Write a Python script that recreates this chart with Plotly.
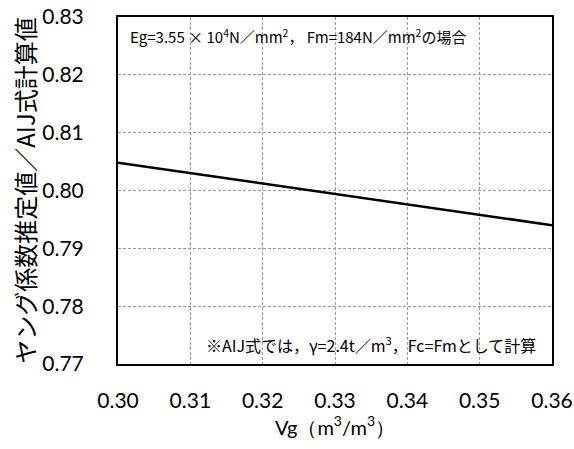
import plotly.graph_objects as go

vg = [0.30, 0.33, 0.36]
ratio = [0.8048, 0.7994, 0.7940]

x_ticks = [0.30, 0.31, 0.32, 0.33, 0.34, 0.35, 0.36]
y_ticks = [0.77, 0.78, 0.79, 0.80, 0.81, 0.82, 0.83]

num_font = "Lato, Open Sans, sans-serif"
jp_font = "Noto Sans CJK JP, sans-serif"

fig = go.Figure()
fig.add_trace(go.Scatter(x=vg, y=ratio, mode="lines",
                         line=dict(color="black", width=2.5), showlegend=False))

fig.update_layout(
    width=574, height=449,
    margin=dict(l=118, r=22, t=17, b=85, autoexpand=False),
    plot_bgcolor="white", paper_bgcolor="white",
    xaxis=dict(range=[0.30, 0.36], tickvals=x_ticks,
               ticktext=[f"{v:.2f}" for v in x_ticks],
               showgrid=True, gridcolor="#9a9a9a", griddash="3px,2px", gridwidth=1,
               showline=True, linecolor="black", linewidth=2, mirror=True,
               ticks="outside", ticklen=17, tickcolor="rgba(0,0,0,0)",
               zeroline=False, automargin=False,
               tickfont=dict(family=num_font, size=21, color="black"),
               title=dict(text="Vg（m<sup>3</sup>/m<sup>3</sup>）",
                          font=dict(family=num_font, size=20, color="black"),
                          standoff=3)),
    yaxis=dict(range=[0.77, 0.83], tickvals=y_ticks,
               ticktext=[f"{v:.2f}" for v in y_ticks],
               showgrid=True, gridcolor="#9a9a9a", griddash="3px,2px", gridwidth=1,
               showline=True, linecolor="black", linewidth=2, mirror=True,
               ticks="outside", ticklen=28, tickcolor="rgba(0,0,0,0)",
               zeroline=False, automargin=False,
               tickfont=dict(family=num_font, size=21, color="black"),
               title=dict(text="ヤング係数推定値／AIJ式計算値",
                          font=dict(family=jp_font, size=24, color="black"),
                          standoff=0)),
    annotations=[
        dict(xref="paper", yref="paper", x=0.023, y=0.945, xanchor="left", yanchor="middle",
             text="Eg=3.55 × 10<sup>4</sup>N／mm<sup>2</sup>， Fm=184N／mm<sup>2</sup>の場合",
             showarrow=False, font=dict(family=jp_font, size=15, color="black")),
        dict(xref="paper", yref="paper", x=0.968, y=0.055, xanchor="right", yanchor="middle",
             text="※AIJ式では，γ=2.4t／m<sup>3</sup>，Fc=Fmとして計算",
             showarrow=False, font=dict(family=jp_font, size=16, color="black")),
    ],
)

fig.write_html("out.html", config={"displayModeBar": False},
               post_script="document.body.style.margin='0';document.body.style.overflow='hidden';")
